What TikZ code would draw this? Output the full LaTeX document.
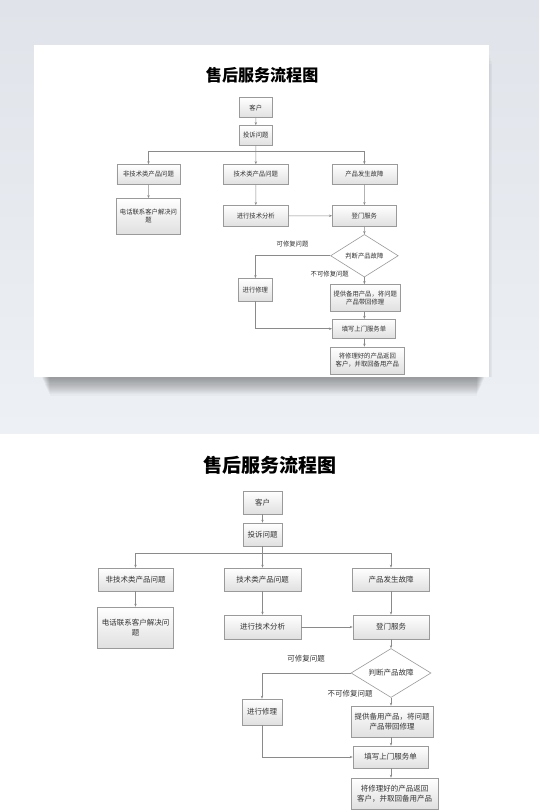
\documentclass[tikz,border=0pt]{standalone}
\usepackage{fontspec}
\newfontfamily\cjk{Noto Sans CJK SC}
\usetikzlibrary{shapes.geometric,arrows.meta}
\definecolor{bgtop}{HTML}{E0E4EA}
\definecolor{bgbot}{HTML}{EDF0F4}
\definecolor{boxline}{HTML}{9A9A9A}
\definecolor{boxbot}{HTML}{E0E0E0}
\definecolor{txt}{HTML}{333333}
\definecolor{ln}{HTML}{8A8A8A}
\tikzset{
  bx/.style={draw=boxline, line width=0.6pt, top color=white, bottom color=boxbot, inner sep=0pt,
    font=\cjk\fontsize{7.5}{9.5}\selectfont, text=txt, align=center},
  dia/.style={diamond, draw=boxline, line width=0.6pt, fill=white, inner sep=0pt, aspect=1.63,
    minimum width=80, minimum height=49, font=\cjk\fontsize{7.5}{9.5}\selectfont, text=txt},
  ttl/.style={font=\cjk\bfseries\fontsize{19}{19}\selectfont, text=black},
  lbl/.style={font=\cjk\fontsize{7.5}{9.5}\selectfont, text=txt, inner sep=0pt},
  ar/.style={draw=ln, line width=0.5pt, -{Stealth[length=3pt,width=2.4pt]}},
  ln/.style={draw=ln, line width=0.5pt}
}
\newcommand\drawchart[1]{%
  \node[ttl] (#1t) at (270,465) {售后服务流程图};
  \node[bx, minimum width=39, minimum height=23] (#1a) at (262.5,502.5) {客户};
  \node[bx, minimum width=39, minimum height=23] (#1b) at (262.5,534.5) {投诉问题};
  \node[bx, minimum width=75, minimum height=23] (#1c1) at (135.5,579.5) {非技术类产品问题};
  \node[bx, minimum width=77, minimum height=23] (#1c2) at (262.5,579.5) {技术类产品问题};
  \node[bx, minimum width=77, minimum height=23] (#1c3) at (391,579.5) {产品发生故障};
  \node[bx, minimum width=76, minimum height=41] (#1d1) at (135.5,627.5) {电话联系客户解决问\\题};
  \node[bx, minimum width=77, minimum height=24] (#1d2) at (262.5,627) {进行技术分析};
  \node[bx, minimum width=76, minimum height=24] (#1d3) at (391,627) {登门服务};
  \node[dia] (#1e) at (391,673) {判断产品故障};
  \node[lbl] (#1l1) at (306,659) {可修复问题};
  \node[bx, minimum width=40, minimum height=26] (#1f) at (262,712) {进行修理};
  \node[lbl] (#1l2) at (350,694) {不可修复问题};
  \node[bx, minimum width=82, minimum height=31] (#1g) at (392,721.5) {提供备用产品，将问题\\产品带回修理};
  \node[bx, minimum width=75, minimum height=22] (#1h) at (390.5,757) {填写上门服务单};
  \node[bx, minimum width=87, minimum height=31] (#1i) at (394.5,793.5) {将修理好的产品返回\\客户，并取回备用产品};
  \coordinate (#1j) at (262.5,553);
  \draw[ar] (#1a) -- (#1b);
  \draw[ar] (#1b) -- (#1c2);
  \draw[ar] (#1j) -| (#1c1.north);
  \draw[ar] (#1j) -| (#1c3.north);
  \draw[ar] (#1c1) -- (#1d1);
  \draw[ar] (#1c2) -- (#1d2);
  \draw[ar] (#1c3) -- (#1d3);
  \draw[ar] (#1d2) -- (#1d3);
  \draw[ar] (#1d3) -- (#1e);
  \draw[ar] (#1e.west) -| (#1f.north);
  \draw[ar] (#1e.south) -- (#1e.south |- #1g.north);
  \draw[ar] (#1e.south |- #1g.south) -- (#1e.south |- #1h.north);
  \draw[ar] (#1f.south) |- (#1h.west);
  \draw[ar] (#1e.south |- #1h.south) -- (#1e.south |- #1i.north);
}
\begin{document}
\begin{tikzpicture}[x=1pt,y=-1pt]
  \useasboundingbox (0,0) rectangle (539,812);
  \fill[white] (0,0) rectangle (539,812);
  \fill[top color=bgtop, bottom color=bgbot] (0,0) rectangle (539,433);
  % card shadow (soft, layered)
  \foreach \i in {0,...,15} {
    \fill[black, opacity=0.025] (42+\i*0.5,377) rectangle (484-\i*0.5,379+\i*1.1);
  }
  \foreach \i in {0,...,3} {
    \fill[black, opacity=0.02] (489,55+\i*3) rectangle (490+\i*0.8,377);
  }
  \fill[white] (34,45) rectangle (489,377);
  \begin{scope}[shift={(34,-329.1)}, xscale=0.845, yscale=0.869, transform shape]
    \drawchart{u}
  \end{scope}
  \drawchart{w}
\end{tikzpicture}
\end{document}
